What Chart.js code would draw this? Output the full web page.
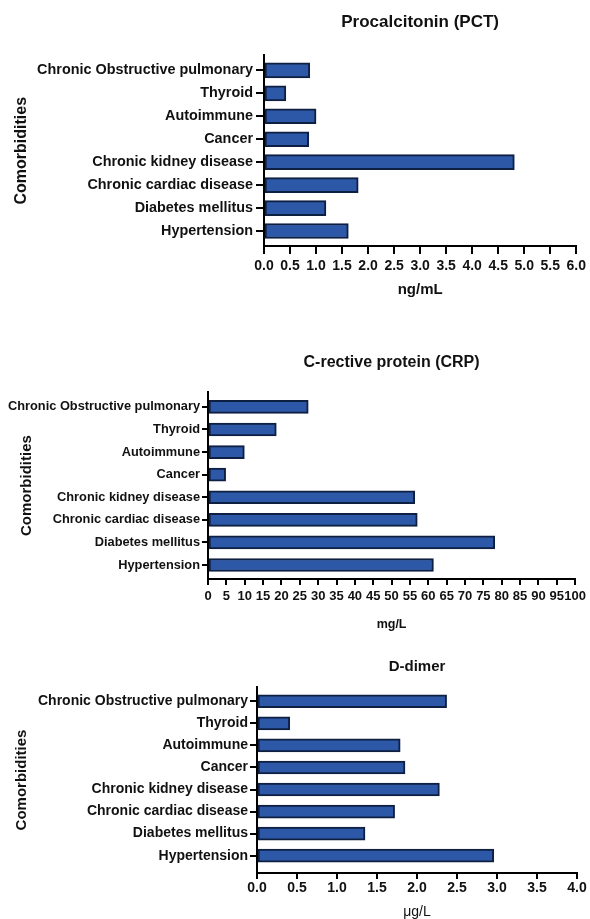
<!DOCTYPE html>
<html><head><meta charset="utf-8">
<script src="https://cdn.jsdelivr.net/npm/chart.js@4.4.1/dist/chart.umd.min.js"></script>
<style>
html,body{margin:0;padding:0;background:#fff;width:590px;height:919px;overflow:hidden;position:relative;}
canvas{position:absolute;left:0;}
</style></head><body>
<canvas id="c1" width="590" height="305" style="top:0px"></canvas>
<canvas id="c2" width="590" height="305" style="top:330px"></canvas>
<canvas id="c3" width="590" height="285" style="top:640px"></canvas>
<script>
const categories = ['Chronic Obstructive pulmonary','Thyroid','Autoimmune','Cancer','Chronic kidney disease','Chronic cardiac disease','Diabetes mellitus','Hypertension'];
const pctValues = [0.88, 0.42, 1.0, 0.86, 4.81, 1.81, 1.19, 1.62];
const crpValues = [27.3, 18.6, 9.9, 4.8, 56.3, 57.0, 78.1, 61.4];
const dDimerValues = [2.37, 0.41, 1.79, 1.85, 2.28, 1.72, 1.35, 2.96];
const pctTicks = [0,0.5,1,1.5,2,2.5,3,3.5,4,4.5,5,5.5,6];
const crpTicks = [0,5,10,15,20,25,30,35,40,45,50,55,60,65,70,75,80,85,90,95,100];
const dDimerTicks = [0,0.5,1,1.5,2,2.5,3,3.5,4];

const FONT = '"Liberation Sans", Arial, Helvetica, sans-serif';
Chart.defaults.font.family = FONT;
Chart.defaults.color = '#111';

function build(id, s) {
  return new Chart(document.getElementById(id), {
    type: 'bar',
    data: { datasets: [{
      data: s.values.map((v, i) => ({x: v, y: i})),
      backgroundColor: '#2D58A7', borderColor: '#0E1F42', borderWidth: 2,
      borderSkipped: false, barThickness: s.barThickness
    }]},
    options: {
      indexAxis: 'y', responsive: false, animation: false, devicePixelRatio: 1,
      layout: {padding: {left: 0, right: s.padRight, top: 0, bottom: 0}},
      plugins: {
        legend: {display: false}, tooltip: {enabled: false},
        title: {display: true, text: s.title, fullSize: false, color: '#111',
          font: {size: s.titleSize, weight: 'bold'},
          padding: {top: s.titlePadTop, bottom: s.titlePadBottom}}
      },
      scales: {
        x: {
          type: 'linear', min: s.ticks[0], max: s.ticks[s.ticks.length - 1], offset: false,
          afterBuildTicks: sc => { sc.ticks = s.ticks.map(v => ({value: v})); },
          afterFit: sc => { sc.height = s.xHeight; },
          grid: {offset: false, drawOnChartArea: false, drawTicks: true, tickLength: s.xTickLen, color: '#000', lineWidth: 2},
          border: {display: true, color: '#000', width: 2},
          ticks: {autoSkip: false, maxRotation: 0, minRotation: 0, padding: s.xTickPad, color: '#111',
            font: {size: s.xTickSize, weight: 'bold'}, callback: v => s.fmt(v)},
          title: {display: true, text: s.xTitle, color: '#111',
            font: {size: s.xTitleSize, weight: s.xTitleWeight}, padding: {top: 0, bottom: s.xTitlePadBottom}}
        },
        y: {
          type: 'linear', reverse: true, min: s.yMin, max: s.yMax, offset: false,
          afterBuildTicks: sc => { sc.ticks = categories.map((c, i) => ({value: i})); },
          afterFit: sc => { sc.width = s.yWidth; },
          grid: {offset: false, drawOnChartArea: false, drawTicks: true, tickLength: s.yTickLen, color: '#000', lineWidth: 2},
          border: {display: true, color: '#000', width: 2},
          ticks: {autoSkip: false, padding: s.yTickPad, color: '#111',
            font: {size: s.yTickSize, weight: 'bold'}, callback: v => categories[v]},
          title: {display: true, text: 'Comorbidities', color: '#111',
            font: {size: s.yTitleSize, weight: 'bold'}, padding: {top: s.yTitlePad, bottom: 0}}
        }
      }
    }
  });
}

build('c1', {
  values: pctValues, ticks: pctTicks, fmt: v => v.toFixed(1),
  title: 'Procalcitonin (PCT)', titleSize: 17, titlePadTop: 12, titlePadBottom: 23,
  padRight: 11, barThickness: 15,
  xHeight: 59, xTickLen: 8, xTickPad: 4, xTickSize: 14,
  xTitle: 'ng/mL', xTitleSize: 15, xTitleWeight: 'bold', xTitlePadBottom: 6,
  yMin: -0.652, yMax: 7.652, yWidth: 264, yTickLen: 8, yTickPad: 3, yTickSize: 14.4,
  yTitleSize: 16, yTitlePad: 12
});
build('c2', {
  values: crpValues, ticks: crpTicks, fmt: v => String(v),
  title: 'C-rective protein (CRP)', titleSize: 16, titlePadTop: 23, titlePadBottom: 20,
  padRight: 9, barThickness: 13,
  xHeight: 56, xTickLen: 6, xTickPad: 4, xTickSize: 13,
  xTitle: 'mg/L', xTitleSize: 12.5, xTitleWeight: 'bold', xTitlePadBottom: 3,
  yMin: -0.65, yMax: 7.62, yWidth: 208, yTickLen: 6, yTickPad: 2, yTickSize: 12.8,
  yTitleSize: 15, yTitlePad: 18
});
build('c3', {
  values: dDimerValues, ticks: dDimerTicks, fmt: v => v.toFixed(1),
  title: 'D-dimer', titleSize: 15, titlePadTop: 18, titlePadBottom: 11,
  padRight: 13, barThickness: 13,
  xHeight: 52, xTickLen: 6, xTickPad: 1, xTickSize: 14,
  xTitle: 'μg/L', xTitleSize: 14, xTitleWeight: 'normal', xTitlePadBottom: 4,
  yMin: -0.648, yMax: 7.785, yWidth: 257, yTickLen: 7, yTickPad: 2, yTickSize: 14,
  yTitleSize: 15, yTitlePad: 13
});
</script>
</body></html>
